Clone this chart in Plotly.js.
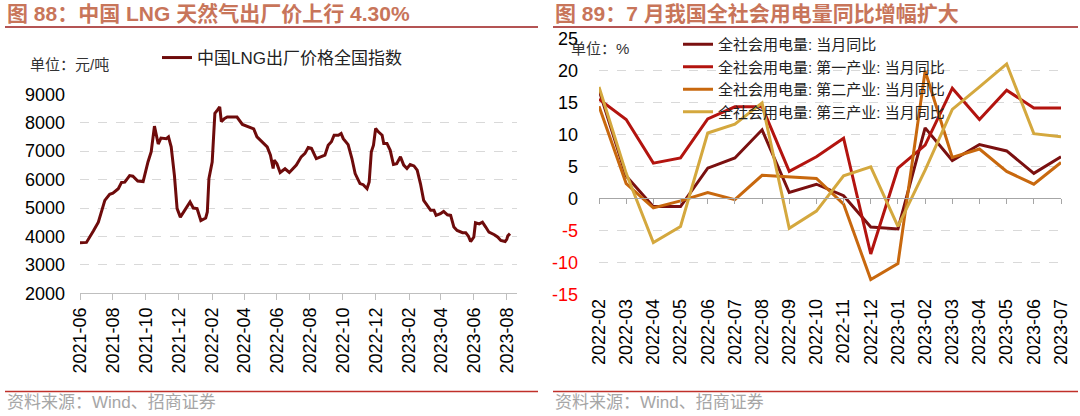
<!DOCTYPE html>
<html>
<head>
<meta charset="utf-8">
<script src="https://cdn.plot.ly/plotly-3.0.1.min.js"></script>
<style>
body { margin: 0; background: #fff; }
#chart { width: 1080px; height: 416px; }
</style>
</head>
<body>
<div id="chart"></div>
<script>
// 图88 LNG 出厂价格（元/吨）
var lngDates = [
  '2021-06-01', '2021-06-13', '2021-06-26', '2021-07-05', '2021-07-17', '2021-07-26',
  '2021-08-01', '2021-08-11', '2021-08-17', '2021-08-23', '2021-09-01', '2021-09-07',
  '2021-09-16', '2021-09-26', '2021-10-05', '2021-10-11', '2021-10-17', '2021-10-24',
  '2021-10-29', '2021-11-08', '2021-11-12', '2021-11-17', '2021-11-23', '2021-11-28',
  '2021-12-04', '2021-12-14', '2021-12-22', '2021-12-28', '2022-01-04', '2022-01-11',
  '2022-01-20', '2022-01-23', '2022-01-26', '2022-02-01', '2022-02-06', '2022-02-11',
  '2022-02-15', '2022-02-18', '2022-02-24', '2022-03-01', '2022-03-13', '2022-03-19',
  '2022-03-29', '2022-04-07', '2022-04-19', '2022-04-25', '2022-05-04', '2022-05-14',
  '2022-05-20', '2022-05-25', '2022-05-27', '2022-06-01', '2022-06-07', '2022-06-16',
  '2022-06-24', '2022-07-07', '2022-07-16', '2022-07-23', '2022-07-29', '2022-08-04',
  '2022-08-13', '2022-08-20', '2022-08-29', '2022-09-04', '2022-09-10', '2022-09-15',
  '2022-09-23', '2022-09-28', '2022-10-02', '2022-10-11', '2022-10-18', '2022-10-24',
  '2022-11-02', '2022-11-08', '2022-11-15', '2022-11-19', '2022-11-23', '2022-11-27',
  '2022-12-01', '2022-12-06', '2022-12-13', '2022-12-16', '2022-12-22', '2022-12-28',
  '2023-01-03', '2023-01-09', '2023-01-16', '2023-01-22', '2023-01-28', '2023-02-03',
  '2023-02-10', '2023-02-16', '2023-02-22', '2023-02-28', '2023-03-06', '2023-03-13',
  '2023-03-19', '2023-03-23', '2023-03-31', '2023-04-06', '2023-04-13', '2023-04-19',
  '2023-04-25', '2023-05-01', '2023-05-11', '2023-05-17', '2023-05-22', '2023-05-26',
  '2023-06-01', '2023-06-04', '2023-06-11', '2023-06-17', '2023-06-23', '2023-06-29',
  '2023-07-09', '2023-07-15', '2023-07-21', '2023-07-29', '2023-08-01', '2023-08-03',
  '2023-08-07'
];
var lngValues = [
  3780, 3790, 4200, 4500, 5270, 5480,
  5520, 5680, 5900, 5910, 6140, 6120,
  5950, 5930, 6620, 6980, 7880, 7250,
  7460, 7440, 7500, 7150, 6150, 4980,
  4680, 4980, 5210, 5000, 4980, 4560,
  4650, 4860, 6040, 6620, 8330, 8450,
  8560, 8040, 8150, 8200, 8210, 8200,
  7940, 7860, 7780, 7500, 7330, 7150,
  6860, 6390, 6680, 6560, 6250, 6380,
  6250, 6510, 6800, 6920, 7130, 7100,
  6740, 6800, 6860, 7210, 7330, 7560,
  7560, 7620, 7440, 7230, 6740, 6210,
  5860, 5820, 5680, 5920, 6980, 7210,
  7800, 7680, 7560, 7270, 7270, 7030,
  6530, 6560, 6800, 6510, 6390, 6530,
  6480, 6330, 5860, 5270, 5090, 4920,
  4920, 4740, 4800, 4880, 4760, 4740,
  4330, 4210, 4130, 4130, 4010, 3820,
  3980, 4480, 4440, 4500, 4330, 4150,
  4060, 3980, 3860, 3820, 3900, 4020,
  4100
];

// 图89 全社会用电量当月同比（%）
var months = [
  '2022-02', '2022-03', '2022-04', '2022-05', '2022-06', '2022-07', '2022-08', '2022-09', '2022-10',
  '2022-11', '2022-12', '2023-01', '2023-02', '2023-03', '2023-04', '2023-05', '2023-06', '2023-07'
];
var totalYoy     = [16.9, 3.5, -1.3, -1.3, 4.7, 6.3, 10.7, 0.9, 2.2, 0.4, -4.5, -4.8, 11.0, 5.9, 8.4, 7.4, 3.9, 6.5];
var primaryYoy   = [15.5, 12.3, 5.5, 6.3, 12.4, 14.3, 14.3, 4.2, 6.5, 9.4, -8.7, 4.7, 8.3, 17.2, 12.3, 16.9, 14.1, 14.1];
var secondaryYoy = [14.4, 2.3, -1.5, -0.4, 0.9, -0.2, 3.6, 3.4, 3.1, -0.9, -12.7, -10.2, 19.9, 6.4, 7.7, 4.2, 2.2, 5.6];
var tertiaryYoy  = [17.4, 3.9, -6.9, -4.4, 10.2, 11.6, 14.9, -4.7, -2.0, 3.5, 4.9, -4.4, 4.4, 13.9, 17.4, 21.0, 10.1, 9.6];

var lngTicks = [2000, 3000, 4000, 5000, 6000, 7000, 8000, 9000];
var pctTicks = [-15, -10, -5, 0, 5, 10, 15, 20, 25];
var pctTickText = pctTicks.map(function (v) {
  return v < 0 ? '<span style="color:#ff0000">' + v + '</span>' : String(v);
});

// pixel -> paper helpers
var W = 1080, H = 416;
function px(x) { return x / W; }
function py(y) { return 1 - y / H; }

var tickFont = { family: 'Liberation Sans, Arial, sans-serif', size: 18, color: '#000' };
var cjk = 'Liberation Sans, Noto Sans CJK SC, sans-serif';

var traces = [
  {
    x: lngDates, y: lngValues, type: 'scatter', mode: 'lines',
    name: '中国LNG出厂价格全国指数', xaxis: 'x', yaxis: 'y', legend: 'legend',
    line: { color: '#6e0b0b', width: 3 }
  },
  {
    x: months, y: totalYoy, type: 'scatter', mode: 'lines',
    name: '全社会用电量: 当月同比', xaxis: 'x2', yaxis: 'y2', legend: 'legend2',
    line: { color: '#7a1010', width: 3 }
  },
  {
    x: months, y: primaryYoy, type: 'scatter', mode: 'lines',
    name: '全社会用电量: 第一产业: 当月同比', xaxis: 'x2', yaxis: 'y2', legend: 'legend2',
    line: { color: '#b3140f', width: 3 }
  },
  {
    x: months, y: secondaryYoy, type: 'scatter', mode: 'lines',
    name: '全社会用电量: 第二产业: 当月同比', xaxis: 'x2', yaxis: 'y2', legend: 'legend2',
    line: { color: '#c8680e', width: 3 }
  },
  {
    x: months, y: tertiaryYoy, type: 'scatter', mode: 'lines',
    name: '全社会用电量: 第三产业: 当月同比', xaxis: 'x2', yaxis: 'y2', legend: 'legend2',
    line: { color: '#d4a83e', width: 3 }
  },
  // carries the axis at y=0 (tick marks only)
  {
    x: months, y: totalYoy, type: 'scatter', mode: 'none',
    xaxis: 'x3', yaxis: 'y2', showlegend: false, hoverinfo: 'skip'
  }
];

function lineShape(x0, x1, y, color) {
  return {
    type: 'line', xref: 'paper', yref: 'paper',
    x0: px(x0), x1: px(x1), y0: py(y), y1: py(y),
    line: { color: color, width: 1.5 }
  };
}
function note(x, y, text, font) {
  return {
    xref: 'paper', yref: 'paper', x: px(x), y: py(y),
    xanchor: 'left', yanchor: 'middle', showarrow: false,
    text: text, font: font
  };
}

var titleFont = { family: cjk, size: 21, color: '#c8755a' };
var srcFont = { family: cjk, size: 17, color: '#a6a6a6' };
var unitFont = { family: cjk, size: 15, color: '#333' };

var layout = {
  width: W, height: H,
  margin: { l: 0, r: 0, t: 0, b: 0 },
  paper_bgcolor: '#fff', plot_bgcolor: '#fff',
  showlegend: true,
  xaxis: {
    type: 'date', domain: [px(80), px(517)], anchor: 'y',
    range: ['2021-06-01', '2023-08-20'],
    tick0: '2021-06-01', dtick: 'M2', tickformat: '%Y-%m', tickangle: -90,
    ticks: 'outside', ticklen: 6, tickcolor: '#bfbfbf',
    showline: true, linecolor: '#bfbfbf', showgrid: false,
    tickfont: tickFont, automargin: false
  },
  yaxis: {
    domain: [py(293.3), py(94.3)], anchor: 'x',
    range: [2000, 9000], tickvals: lngTicks,
    showgrid: true, gridcolor: '#d9d9d9', griddash: 'dash',
    zeroline: false, showline: false, ticks: '',
    ticklabelstandoff: 14, tickfont: tickFont, automargin: false
  },
  xaxis2: {
    type: 'category', domain: [px(599), px(1061)], anchor: 'y2',
    range: [0, 17], tickangle: -90, ticks: '',
    showline: false, showgrid: false,
    tickfont: tickFont, automargin: false
  },
  xaxis3: {
    type: 'category', overlaying: 'x2', anchor: 'free', position: py(198.3),
    range: [0, 17], showticklabels: false,
    ticks: 'outside', ticklen: 5, tickcolor: '#a6a6a6',
    showline: true, linecolor: '#a6a6a6', linewidth: 1, showgrid: false
  },
  yaxis2: {
    domain: [py(294.3), py(38.3)], anchor: 'x2',
    range: [-15, 25], tickvals: pctTicks, ticktext: pctTickText,
    showgrid: true, gridcolor: '#d9d9d9', griddash: 'dash',
    zeroline: false, showline: false, ticks: '',
    ticklabelstandoff: 20, tickfont: tickFont, automargin: false
  },
  legend: {
    x: px(157), y: py(40), xanchor: 'left', yanchor: 'top',
    bgcolor: 'rgba(0,0,0,0)', font: { family: cjk, size: 17, color: '#222' }
  },
  legend2: {
    x: px(678), y: py(28), xanchor: 'left', yanchor: 'top',
    bgcolor: 'rgba(0,0,0,0)', font: { family: cjk, size: 15, color: '#222' },
    tracegroupgap: 0
  },
  shapes: [
    lineShape(5, 538, 27, '#9b1b1b'),
    lineShape(553, 1078, 27, '#9b1b1b'),
    lineShape(5, 538, 391.5, '#c0302a'),
    lineShape(553, 1078, 391.5, '#c0302a')
  ],
  annotations: [
    note(5, 14, '<b>图 88：中国 LNG 天然气出厂价上行 4.30%</b>', titleFont),
    note(553, 14, '<b>图 89：7 月我国全社会用电量同比增幅扩大</b>', titleFont),
    note(5, 402, '资料来源：Wind、招商证券', srcFont),
    note(553, 402, '资料来源：Wind、招商证券', srcFont),
    note(28, 64, '单位：元/吨', unitFont),
    note(569, 48, '单位：%', unitFont)
  ]
};

Plotly.newPlot('chart', traces, layout, { staticPlot: true, displayModeBar: false });
</script>
</body>
</html>
